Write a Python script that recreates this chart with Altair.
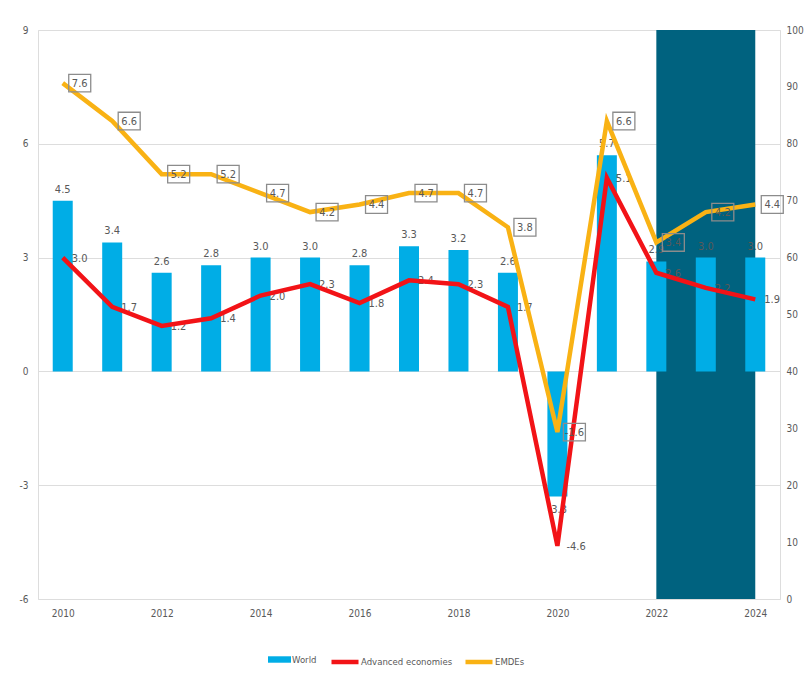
import altair as alt
import pandas as pd

years = list(range(2010, 2025))
world = [4.5, 3.4, 2.6, 2.8, 3.0, 3.0, 2.8, 3.3, 3.2, 2.6, -3.3, 5.7, 2.9, 3.0, 3.0]
advanced = [3.0, 1.7, 1.2, 1.4, 2.0, 2.3, 1.8, 2.4, 2.3, 1.7, -4.6, 5.1, 2.6, 2.2, 1.9]
emdes = [7.6, 6.6, 5.2, 5.2, 4.7, 4.2, 4.4, 4.7, 4.7, 3.8, -1.6, 6.6, 3.4, 4.2, 4.4]
shade_start = [2022]
shade_end = [2024]
shade_top = [100]
shade_bottom = [0]
x_ticks = [2010, 2012, 2014, 2016, 2018, 2020, 2022, 2024]
left_ticks = [-6, -3, 0, 3, 6, 9]
right_ticks = list(range(0, 101, 10))

FONT = "Liberation Sans Narrow, DejaVu Sans Condensed, Arial Narrow, Liberation Sans, sans-serif"
GRAY = "#595959"
BLUE = "#00ADE6"
RED = "#F21317"
ORANGE = "#F9B214"
DARK = "#00627F"
LABEL_EXPR = "replace(format(datum.value, '.1f'), '\u2212', '-')"

df_world = pd.DataFrame({"year": years, "value": world, "series": "World"})
df_adv = pd.DataFrame({"year": years, "value": advanced, "series": "Advanced economies"})
df_emde = pd.DataFrame({"year": years, "value": emdes, "series": "EMDEs"})
df_lines = pd.concat([df_adv, df_emde], ignore_index=True)
df_shade = pd.DataFrame({"start": shade_start, "end": shade_end, "top": shade_top, "bottom": shade_bottom})

x_scale = alt.Scale(domain=[2009.5, 2024.5], nice=False, zero=False, padding=0)
x_axis = alt.Axis(values=x_ticks, format="d", title=None, grid=False, domain=False,
                  ticks=False, labelPadding=9, labelColor=GRAY, labelFontSize=10,
                  labelFont=FONT)
left_scale = alt.Scale(domain=[-6, 9], nice=False, zero=False, padding=0)
right_scale = alt.Scale(domain=[0, 100], nice=False, zero=False, padding=0)


def xenc(field="year"):
    return alt.X(f"{field}:Q", scale=x_scale, axis=x_axis)


def yval():
    return alt.Y("value:Q", scale=left_scale, axis=None)


shade_layer = alt.Chart(df_shade).mark_rect(color=DARK).encode(
    x=xenc("start"), x2="end:Q",
    y=alt.Y("bottom:Q", scale=right_scale,
            axis=alt.Axis(orient="right", values=right_ticks, title=None, grid=False,
                          domain=False, ticks=False, labelPadding=6, labelColor=GRAY,
                          labelFontSize=10, labelFont=FONT)),
    y2="top:Q",
)

bars = alt.Chart(df_world).mark_bar(size=20).encode(
    x=xenc(),
    y=alt.Y("value:Q", scale=left_scale,
            axis=alt.Axis(orient="left", values=left_ticks, title=None, grid=True,
                          gridColor="#DDDDDD", gridWidth=1, domain=False, ticks=False,
                          labelPadding=10, labelColor=GRAY, labelFontSize=10,
                          labelFont=FONT,
                          labelExpr="replace(datum.label, '\u2212', '-')")),
    fill=alt.Fill("series:N", scale=alt.Scale(domain=["World"], range=[BLUE]),
                  legend=alt.Legend(orient="none", legendX=230, legendY=618, title=None,
                                    symbolType="M -1 -0.28 L 1 -0.28 L 1 0.28 L -1 0.28 Z",
                                    symbolSize=529, symbolStrokeWidth=0,
                                    labelFont=FONT, labelFontSize=9.5, labelColor=GRAY,
                                    labelOffset=1)),
)

bar_labels_pos = alt.Chart(df_world).transform_filter("datum.value >= 0").transform_calculate(
    label=LABEL_EXPR
).mark_text(
    baseline="bottom", dy=-6, color=GRAY, font=FONT, fontSize=11
).encode(x=xenc(), y=yval(), text="label:N")

bar_labels_neg = alt.Chart(df_world).transform_filter("datum.value < 0").transform_calculate(
    label=LABEL_EXPR
).mark_text(
    baseline="top", dy=7, color=GRAY, font=FONT, fontSize=11
).encode(x=xenc(), y=yval(), text="label:N")

adv_labels = alt.Chart(df_adv).transform_calculate(label=LABEL_EXPR).mark_text(
    align="left", baseline="middle", dx=9, dy=1, color=GRAY, font=FONT, fontSize=11
).encode(x=xenc(), y=yval(), text="label:N")

lines = alt.Chart(df_lines).mark_line(strokeWidth=4.5, strokeJoin="miter").encode(
    x=xenc(),
    y=yval(),
    stroke=alt.Stroke("series:N",
                      scale=alt.Scale(domain=["Advanced economies", "EMDEs"], range=[RED, ORANGE]),
                      legend=alt.Legend(orient="none", legendX=291, legendY=616, title=None,
                                        direction="horizontal", symbolType="stroke",
                                        symbolSize=730, symbolStrokeWidth=4.5,
                                        labelFont=FONT, labelFontSize=9.5, labelColor=GRAY,
                                        labelOffset=0, columnPadding=3)),
    detail="series:N",
)

emde_boxes = alt.Chart(df_emde).mark_point(
    shape="M -1 -0.8 L 1 -0.8 L 1 0.8 L -1 0.8 Z", size=484, filled=False,
    stroke="#8C8C8C", strokeWidth=1.3, xOffset=17, opacity=1
).encode(x=xenc(), y=yval())

emde_labels = alt.Chart(df_emde).transform_calculate(label=LABEL_EXPR).mark_text(
    align="center", baseline="middle", dx=17, dy=1, color=GRAY, font=FONT, fontSize=11
).encode(x=xenc(), y=yval(), text="label:N")

chart = alt.layer(
    shade_layer, bars, bar_labels_pos, bar_labels_neg, adv_labels, lines, emde_boxes, emde_labels
).resolve_scale(y="independent", fill="independent", stroke="independent").properties(
    width=742, height=569,
    padding={"left": 30, "top": 22, "right": 24, "bottom": 68},
    autosize=alt.AutoSizeParams(type="none"),
).configure_view(stroke=None).configure(background="white")

chart.save("out.html", embed_options={"renderer": "svg", "actions": False})
